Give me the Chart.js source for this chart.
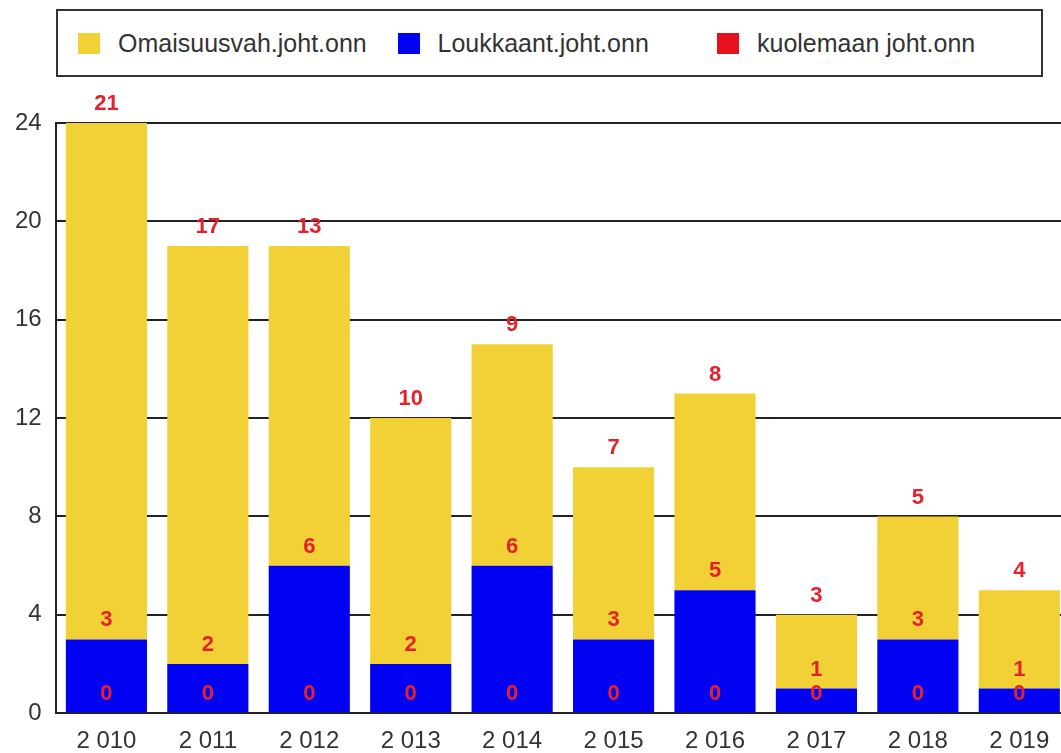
<!DOCTYPE html>
<html>
<head>
<meta charset="utf-8">
<script src="https://cdn.jsdelivr.net/npm/chart.js@4.4.1/dist/chart.umd.min.js"></script>
<style>
  html, body { margin: 0; padding: 0; background: #fff; overflow: hidden; width: 1061px; height: 753px; }
  #wrap { position: absolute; left: 0; top: 0; width: 1072px; height: 776px; }
  #legend {
    position: absolute; left: 56px; top: 9px; width: 987px; height: 68px;
    box-sizing: border-box; border: 2px solid #333; background: #fff;
    display: flex; align-items: center; padding-left: 20px;
    font-family: "Liberation Sans", Arial, sans-serif; font-size: 25px; color: #333;
  }
  .lg-item { width: 319.5px; display: flex; align-items: center; white-space: nowrap; }
  .lg-box { width: 22px; height: 21px; margin-right: 18px; flex: none; }
</style>
</head>
<body>
<div id="wrap"><canvas id="chart" width="1072" height="776"></canvas></div>
<div id="legend"></div>
<script>
/* Stacked bars per year, value labels drawn above each segment */

const years = ['2 010', '2 011', '2 012', '2 013', '2 014', '2 015', '2 016', '2 017', '2 018', '2 019'];
const kuolemaan = [0, 0, 0, 0, 0, 0, 0, 0, 0, 0];
const loukkaant = [3, 2, 6, 2, 6, 3, 5, 1, 3, 1];
const omaisuusvah = [21, 17, 13, 10, 9, 7, 8, 3, 5, 4];
const yTicks = [0, 4, 8, 12, 16, 20, 24];

const series = [
  { label: 'kuolemaan joht.onn', data: kuolemaan, color: '#e8101c' },
  { label: 'Loukkaant.joht.onn', data: loukkaant, color: '#0202f2' },
  { label: 'Omaisuusvah.joht.onn', data: omaisuusvah, color: '#f1d135' },
];

/* HTML legend, same order as the reference (top of stack first) */
document.getElementById('legend').innerHTML = series.slice().reverse().map(s =>
  `<div class="lg-item"><span class="lg-box" style="background:${s.color}"></span>${s.label}</div>`
).join('');

const valueLabels = {
  id: 'valueLabels',
  afterDatasetsDraw(chart) {
    const ctx = chart.ctx;
    ctx.save();
    ctx.font = 'bold 22px "Liberation Sans", Arial, sans-serif';
    ctx.fillStyle = '#e3222c';
    ctx.textAlign = 'center';
    ctx.textBaseline = 'bottom';
    chart.data.datasets.forEach((ds, i) => {
      chart.getDatasetMeta(i).data.forEach((bar, j) => {
        ctx.fillText(String(ds.data[j]), bar.x, bar.y - 8);
      });
    });
    ctx.restore();
  }
};

new Chart(document.getElementById('chart'), {
  type: 'bar',
  data: {
    labels: years,
    datasets: series.map(s => ({
      label: s.label,
      data: s.data,
      backgroundColor: s.color,
      borderWidth: 0,
      categoryPercentage: 1,
      barPercentage: 0.8,
    })),
  },
  options: {
    responsive: false,
    animation: false,
    layout: { padding: { left: 1, top: 123, right: 2, bottom: 6 } },
    plugins: {
      legend: { display: false },
      tooltip: { enabled: false },
    },
    scales: {
      x: {
        stacked: true,
        grid: { display: false, drawTicks: false },
        border: { display: true, color: '#222', width: 2 },
        ticks: { color: '#333', padding: 14, font: { family: '"Liberation Sans", Arial, sans-serif', size: 24 } },
      },
      y: {
        stacked: true,
        min: 0,
        max: 24,
        afterBuildTicks: axis => { axis.ticks = yTicks.map(v => ({ value: v })); },
        grid: { color: '#222', lineWidth: 2, drawTicks: false },
        border: { display: true, color: '#222', width: 2 },
        ticks: { color: '#333', padding: 14, font: { family: '"Liberation Sans", Arial, sans-serif', size: 24 } },
      },
    },
  },
  plugins: [valueLabels],
});
</script>
</body>
</html>
